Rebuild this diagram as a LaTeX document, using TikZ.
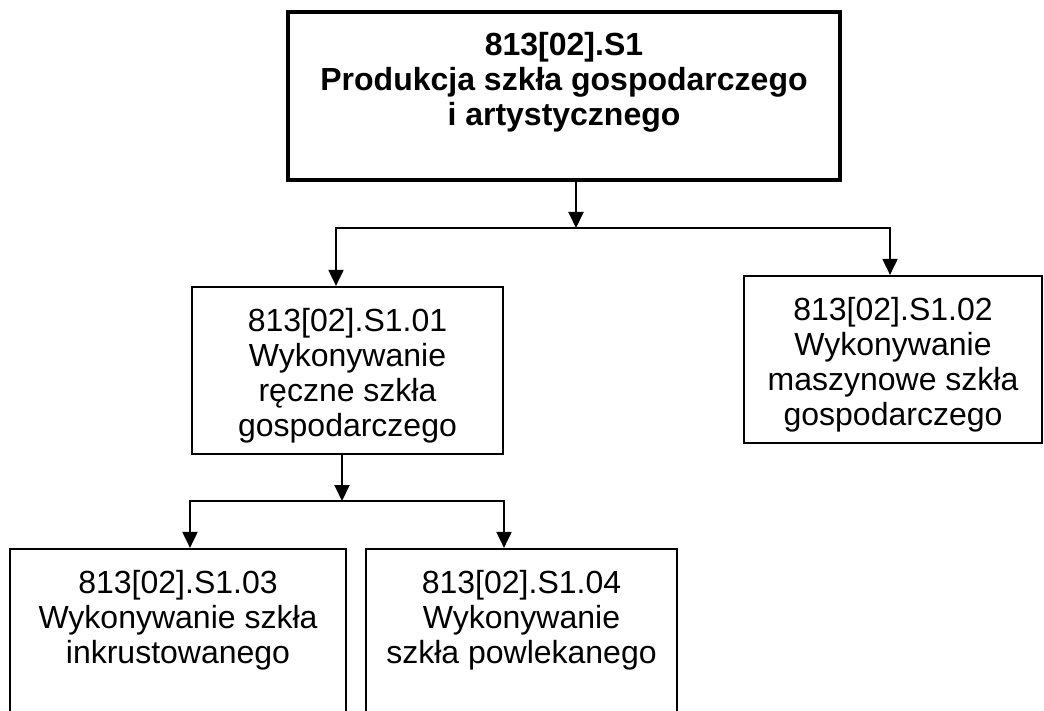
\documentclass[tikz,border=0pt]{standalone}
\usepackage{fontspec}
\setmainfont{Liberation Sans}
\usetikzlibrary{positioning,arrows.meta}

\begin{document}
\begin{tikzpicture}[x=1pt, y=-1pt, node distance=22pt,  % 1pt per pixel of the page
  box/.style={draw, line width=2.2pt, inner sep=0pt, minimum height=167pt},
  mainbox/.style={box, line width=4pt, minimum height=168pt},
  txt/.style={align=center, inner sep=0pt, font=\fontsize{32}{35}\selectfont},
  arr/.style={line width=2pt, -{Triangle[width=15pt, length=16pt]}},
  arrboth/.style={line width=2pt, {Triangle[width=15pt, length=16pt]}-{Triangle[width=15pt, length=16pt]}}]

  \useasboundingbox (0,0) rectangle (1044,711);

  \node (main) [mainbox, minimum width=552pt] at (564,96) {};
  \node (b1) [box, minimum width=311pt] at (347.5,370.5) {};
  \node (b2) [box, minimum width=298pt] at (893,359.5) {};
  \node (b3) [box, minimum width=336pt, minimum height=211pt] at (178,654.5) {};  % runs off the page
  \node (b4) [box, minimum width=311pt, minimum height=211pt] at (521.5,654.5) {};

  \node (maintxt) [txt, font=\fontsize{32}{35}\selectfont\bfseries, below=of main.north] {813[02].S1\\Produkcja szkła gospodarczego\\i artystycznego};
  \node (b1txt) [txt, below=of b1.north] {813[02].S1.01\\Wykonywanie\\ręczne szkła\\gospodarczego};
  \node (b2txt) [txt, below=of b2.north] {813[02].S1.02\\Wykonywanie\\maszynowe szkła\\gospodarczego};
  \node (b3txt) [txt, below=of b3.north] {813[02].S1.03\\Wykonywanie szkła\\inkrustowanego};
  \node (b4txt) [txt, below=of b4.north] {813[02].S1.04\\Wykonywanie\\szkła powlekanego};

  % first level
  \coordinate (fork1) at (576,228);
  \coordinate (fork1l) at (336,228);
  \coordinate (fork1r) at (890,228);
  \draw[arr] (main.south -| fork1) -- (fork1);
  \draw[arrboth] (fork1l |- b1.north) -- (fork1l) -- (fork1r) -- (fork1r |- b2.north);

  % second level
  \coordinate (fork2) at (342,501);
  \coordinate (fork2l) at (190,501);
  \coordinate (fork2r) at (504,501);
  \draw[arr] (b1.south -| fork2) -- (fork2);
  \draw[arrboth] (fork2l |- b3.north) -- (fork2l) -- (fork2r) -- (fork2r |- b4.north);
\end{tikzpicture}
\end{document}
